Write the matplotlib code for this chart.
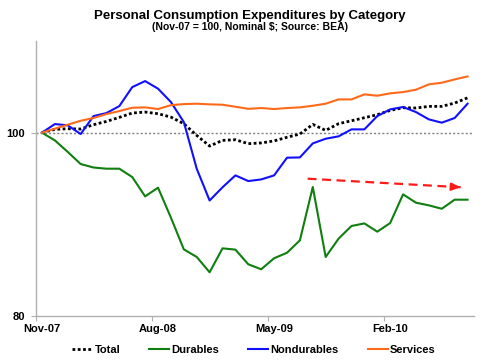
import numpy as np
import matplotlib.pyplot as plt
from matplotlib.lines import Line2D

# monthly index, Nov-07 = 100 (Nov-07 .. Aug-10)
months = list(range(34))
tick_pos = [0, 9, 18, 27]
tick_labels = ["Nov-07", "Aug-08", "May-09", "Feb-10"]

total = [100, 100.36, 100.43, 100.4, 100.87, 101.23, 101.67, 102.14, 102.25, 102.07,
         101.7, 100.98, 99.7, 98.54, 99.16, 99.23, 98.8, 98.88, 99.1, 99.5,
         99.85, 100.9, 100.25, 100.98, 101.3, 101.63, 101.96, 102.43, 102.72, 102.69,
         102.87, 102.87, 103.23, 103.8]
durables = [100, 99.16, 97.9, 96.58, 96.2, 96.07, 96.07, 95.16, 93.05, 94.0,
            90.73, 87.27, 86.44, 84.77, 87.38, 87.24, 85.64, 85.1, 86.3, 86.9,
            88.25, 94.07, 86.44, 88.44, 89.82, 90.1, 89.2, 90.14, 93.27, 92.36,
            92.07, 91.7, 92.69, 92.69]
nondurables = [100, 100.94, 100.8, 99.85, 101.81, 102.14, 102.9, 104.97, 105.63, 104.8,
               103.34, 101.16, 96.07, 92.6, 94.04, 95.34, 94.72, 94.9, 95.34, 97.27,
               97.3, 98.83, 99.34, 99.6, 100.36, 100.36, 101.81, 102.54, 102.8, 102.25,
               101.45, 101.09, 101.6, 103.16]
services = [100, 100.43, 100.87, 101.3, 101.6, 102.03, 102.36, 102.72, 102.76, 102.58,
            103.0, 103.12, 103.16, 103.09, 103.05, 102.83, 102.6, 102.69, 102.58, 102.69,
            102.76, 102.94, 103.16, 103.63, 103.63, 104.18, 104.03, 104.29, 104.43, 104.69,
            105.27, 105.45, 105.81, 106.14]

# red trend arrow (start / end in data units)
arrow_x = [20.6, 32.66]
arrow_y = [94.98, 94.03]

plt.rcParams['font.family'] = ['Liberation Sans', 'DejaVu Sans']
plt.rcParams['font.weight'] = 'bold'

fig = plt.figure(figsize=(5, 3.63), dpi=100)
ax = fig.add_axes([0.071, 0.1295, 0.877, 0.7575])

ax.axhline(100, color='#808080', lw=1, ls=(0, (1.5, 1.5)), zorder=1)

ax.plot(months, total, color='black', lw=2, ls=(0, (1, 0.9)), label='Total', zorder=3)
ax.plot(months, durables, color='#0f7f0f', lw=1.5, label='Durables', zorder=3)
ax.plot(months, nondurables, color='#1010ff', lw=1.5, label='Nondurables', zorder=3)
ax.plot(months, services, color='#ff6a1a', lw=1.5, label='Services', zorder=3)

# dashed arrow
ax.plot(arrow_x, arrow_y, color='#ff1a1a', lw=1.6, ls=(0, (4, 2.5)), zorder=4)
seg = 0.9
slope = (arrow_y[1] - arrow_y[0]) / (arrow_x[1] - arrow_x[0])
ax.annotate('', xy=(arrow_x[1], arrow_y[1]),
            xytext=(arrow_x[1] - seg, arrow_y[1] - seg * slope),
            arrowprops=dict(arrowstyle='-|>,head_length=0.5,head_width=0.22',
                            color='#ff1a1a', lw=1.6), zorder=4)

ax.set_xlim(-0.5, 33.5)
ax.set_ylim(80, 110)
ax.set_yticks([80, 100])
ax.set_yticklabels(['80', '100'], fontsize=8, fontweight='bold')

ax.set_xticks([p - 0.5 for p in tick_pos])
ax.set_xticklabels([])
ax.set_xticks(tick_pos, minor=True)
ax.set_xticklabels(tick_labels, minor=True, fontsize=8, fontweight='bold')
ax.tick_params(axis='x', which='major', length=3.5, color='#b0b0b0', direction='out')
ax.tick_params(axis='x', which='minor', length=0, pad=6)
ax.tick_params(axis='y', length=3.5, color='#b0b0b0', pad=4)

for s in ['top', 'right']:
    ax.spines[s].set_visible(False)
for s in ['left', 'bottom']:
    ax.spines[s].set_color('#b0b0b0')
    ax.spines[s].set_linewidth(1)

fig.text(0.5, 0.957, 'Personal Consumption Expenditures by Category',
         ha='center', va='center', fontsize=9.5, fontweight='bold')
fig.text(0.5, 0.925, '(Nov-07 = 100, Nominal $; Source: BEA)',
         ha='center', va='center', fontsize=7.5, fontweight='bold')

fig.legend(loc='center', bbox_to_anchor=(0.508, 0.036), ncol=4, frameon=False,
           prop={'size': 8, 'weight': 'bold'}, handlelength=1.8,
           handletextpad=0.2, columnspacing=2.6, borderaxespad=0)

fig.savefig('out.png', dpi=100)
